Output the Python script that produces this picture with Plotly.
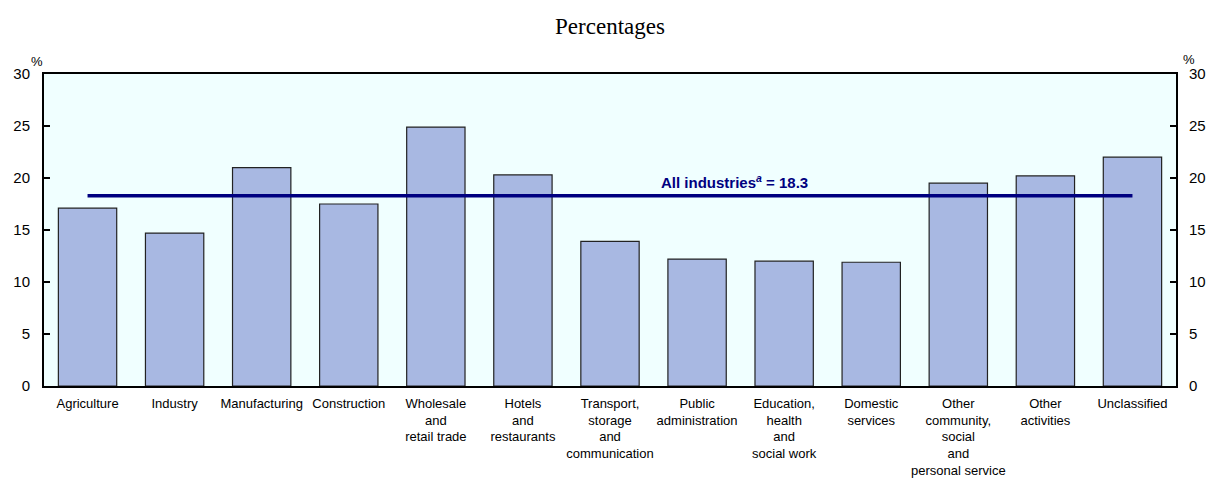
import plotly.graph_objects as go

categories = ["Agriculture", "Industry", "Manufacturing", "Construction",
              "Wholesale<br>and<br>retail trade", "Hotels<br>and<br>restaurants",
              "Transport,<br>storage<br>and<br>communication", "Public<br>administration",
              "Education,<br>health<br>and<br>social work", "Domestic<br>services",
              "Other<br>community,<br>social<br>and<br>personal service",
              "Other<br>activities", "Unclassified"]
values = [17.1, 14.7, 21.0, 17.5, 24.9, 20.3, 13.9, 12.2, 12.0, 11.9, 19.5, 20.2, 22.0]
all_industries = 18.3
y_ticks = [0, 5, 10, 15, 20, 25, 30]

x_idx = list(range(len(categories)))

fig = go.Figure()
fig.add_trace(go.Bar(x=x_idx, y=values, width=0.67,
                     marker=dict(color="#A8B8E2", line=dict(color="#222222", width=1.2)),
                     showlegend=False, hoverinfo="y"))
fig.add_trace(go.Scatter(x=[x_idx[0], x_idx[-1]], y=[all_industries, all_industries],
                         mode="lines", line=dict(color="#000080", width=3.5),
                         showlegend=False, hoverinfo="skip"))
fig.add_trace(go.Scatter(x=[x_idx[0]], y=[0], yaxis="y2", mode="markers",
                         marker=dict(opacity=0), showlegend=False, hoverinfo="skip"))

axis_font = dict(family="Liberation Sans, Arial, sans-serif", size=15, color="black")
small_font = dict(family="Liberation Sans, Arial, sans-serif", size=13, color="black")
pct_font = dict(family="Liberation Sans, Arial, sans-serif", size=13, color="black")

W, H = 1215, 483
L, R, T, B = 44, 39, 74, 97
pw = W - L - R
ph = H - T - B

fig.update_layout(
    width=W, height=H,
    margin=dict(l=L, r=R, t=T, b=B, autoexpand=False),
    paper_bgcolor="white",
    plot_bgcolor="#F0FFFF",
    title=dict(text="Percentages", x=610 / W, xanchor="center",
               y=1 - 26 / H, yanchor="middle",
               font=dict(family="Liberation Serif, Times New Roman, serif", size=23, color="black")),
    xaxis=dict(tickmode="array", tickvals=x_idx, ticktext=categories, automargin=False,
               range=[-0.5, len(categories) - 0.5], showgrid=False, zeroline=False,
               showline=True, linecolor="black", linewidth=2, mirror=True, ticks="",
               tickfont=small_font, ticklabelstandoff=4),
    yaxis=dict(range=[0, 30], tickvals=y_ticks, showgrid=False, zeroline=False, automargin=False,
               showline=True, linecolor="black", linewidth=2, ticks="inside", ticklen=6,
               tickcolor="black", tickwidth=1.5, tickfont=axis_font, ticklabelstandoff=9),
    yaxis2=dict(range=[0, 30], tickvals=y_ticks, overlaying="y", side="right", automargin=False,
                showgrid=False, zeroline=False, showline=True, linecolor="black", linewidth=2,
                ticks="inside", ticklen=6, tickcolor="black", tickwidth=1.5, tickfont=axis_font,
                ticklabelstandoff=8),
    annotations=[
        dict(text="<b>All industries<sup><i>a</i></sup> = 18.3</b>", x=7.43, y=all_industries,
             xref="x", yref="y", showarrow=False, yanchor="bottom", yshift=3,
             font=dict(family="Liberation Sans, Arial, sans-serif", size=15, color="#000080")),
        dict(text="%", x=(37 - L) / pw, y=(H - B - 62) / ph, xref="paper", yref="paper",
             showarrow=False, xanchor="center", yanchor="middle", font=pct_font),
        dict(text="%", x=(1189 - L) / pw, y=(H - B - 60) / ph, xref="paper", yref="paper",
             showarrow=False, xanchor="center", yanchor="middle", font=pct_font),
    ],
)

fig.write_html("out.html", config={"displayModeBar": False},
               post_script="document.body.style.margin='0';document.body.style.padding='0';")
